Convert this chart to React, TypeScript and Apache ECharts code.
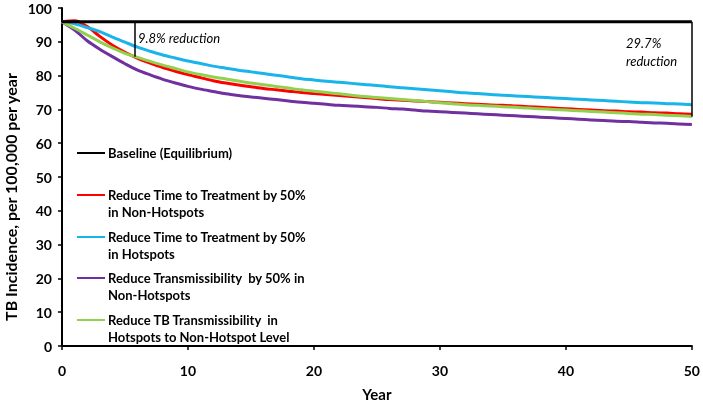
import React, { useEffect, useRef } from "react";
import * as echarts from "echarts";

const years = Array.from({ length: 51 }, (_, i) => i);
const baseline = 95.9;
const hotspotsTreatment = [95.9, 95.3, 94.2, 93.0, 91.4, 89.9, 88.4, 87.2, 86.1, 85.2, 84.3, 83.6, 82.8, 82.2, 81.6, 81.1, 80.6, 80.1, 79.6, 79.1, 78.7, 78.3, 78.0, 77.7, 77.4, 77.1, 76.7, 76.4, 76.1, 75.8, 75.5, 75.2, 74.9, 74.7, 74.4, 74.2, 74.0, 73.8, 73.6, 73.4, 73.2, 73.0, 72.8, 72.6, 72.4, 72.2, 72.0, 71.9, 71.7, 71.6, 71.4];
const nonHotspotsTreatment = [95.9, 96.2, 94.5, 91.6, 89.0, 86.9, 85.1, 83.7, 82.4, 81.3, 80.3, 79.4, 78.5, 77.8, 77.2, 76.7, 76.2, 75.8, 75.4, 75.0, 74.7, 74.4, 74.1, 73.8, 73.5, 73.2, 72.9, 72.7, 72.5, 72.3, 72.1, 71.9, 71.7, 71.5, 71.3, 71.2, 71.0, 70.8, 70.6, 70.4, 70.2, 70.0, 69.8, 69.6, 69.5, 69.3, 69.2, 69.0, 68.9, 68.7, 68.6];
const nonHotspotsTransmission = [95.9, 93.5, 90.3, 87.8, 85.6, 83.5, 81.6, 80.2, 78.9, 77.8, 76.8, 76.0, 75.3, 74.6, 74.1, 73.7, 73.3, 72.9, 72.5, 72.1, 71.8, 71.5, 71.2, 71.0, 70.8, 70.6, 70.3, 70.1, 69.8, 69.5, 69.3, 69.1, 68.9, 68.7, 68.5, 68.3, 68.1, 67.9, 67.7, 67.5, 67.3, 67.1, 66.9, 66.7, 66.5, 66.4, 66.2, 66.0, 65.9, 65.7, 65.5];
const hotspotsTransmission = [95.9, 94.0, 92.0, 90.0, 88.2, 86.6, 85.4, 84.2, 83.1, 82.1, 81.1, 80.3, 79.6, 79.0, 78.4, 77.8, 77.3, 76.8, 76.3, 75.8, 75.4, 75.0, 74.6, 74.2, 73.8, 73.5, 73.2, 72.9, 72.6, 72.3, 72.0, 71.7, 71.4, 71.2, 71.0, 70.8, 70.6, 70.4, 70.2, 70.0, 69.8, 69.6, 69.4, 69.2, 69.0, 68.8, 68.6, 68.5, 68.3, 68.1, 67.9];

const seriesNames = [
  "Baseline (Equilibrium)",
  "Reduce Time to Treatment by 50%\nin Non-Hotspots",
  "Reduce Time to Treatment by 50%\nin Hotspots",
  "Reduce Transmissibility  by 50% in\nNon-Hotspots",
  "Reduce TB Transmissibility  in\nHotspots to Non-Hotspot Level",
];
const colors = ["#000000", "#ff0000", "#18b4ea", "#7030a0", "#92d050"];
const annotations = [
  { year: 5.8, to: 85.6, text: "9.8% reduction" },
  { year: 50, to: 67.8, text: "29.7%\nreduction" },
];
const yTitle = "TB Incidence, per 100,000 per year";

const FONT = "Lato";

export default function App() {
  const ref = useRef<HTMLDivElement>(null);
  useEffect(() => {
    const chart = echarts.init(ref.current!, null, { renderer: "svg" });
    const pair = (arr: number[]) => years.map((y, i) => [y, arr[i]]);
    const dataSets = [
      [[0, baseline], [50, baseline]],
      pair(nonHotspotsTreatment),
      pair(hotspotsTreatment),
      pair(nonHotspotsTransmission),
      pair(hotspotsTransmission),
    ];
    const legendY = [153, 195, 237, 278, 320];
    const graphic: any[] = [];
    seriesNames.forEach((name, i) => {
      graphic.push({
        type: "line",
        shape: { x1: 77, y1: legendY[i], x2: 105, y2: legendY[i] },
        style: { stroke: colors[i], lineWidth: 2 },
      });
      graphic.push({
        type: "text",
        x: 108,
        y: legendY[i] - 8.5,
        style: {
          text: name,
          fill: "#000",
          font: `bold 13px ${FONT}`,
          lineHeight: 17,
        },
      });
    });
    graphic.push({
      type: "text",
      x: 138,
      y: 31,
      style: { text: annotations[0].text, fill: "#000", font: `italic 13px ${FONT}` },
    });
    graphic.push({
      type: "text",
      x: 626,
      y: 34,
      style: { text: annotations[1].text, fill: "#000", font: `italic 13px ${FONT}`, lineHeight: 18 },
    });
    graphic.push({
      type: "text",
      x: 10,
      y: 197,
      rotation: Math.PI / 2,
      style: {
        text: yTitle,
        fill: "#000",
        font: `bold 16px ${FONT}`,
        align: "center",
        verticalAlign: "middle",
      },
    });

    chart.setOption({
      animation: false,
      grid: { left: 62, right: 8, top: 8, bottom: 58 },
      xAxis: {
        type: "value",
        min: 0,
        max: 50,
        interval: 10,
        name: "Year",
        nameLocation: "middle",
        nameGap: 40,
        nameTextStyle: { fontFamily: FONT, fontWeight: "bold", fontSize: 15, color: "#000" },
        axisLine: { lineStyle: { color: "#000", width: 2 } },
        axisTick: { show: true, length: 4, lineStyle: { color: "#000", width: 1.5 } },
        axisLabel: { margin: 17, fontFamily: FONT, fontWeight: "bold", fontSize: 14, color: "#000" },
        splitLine: { show: false },
      },
      yAxis: {
        type: "value",
        min: 0,
        max: 100,
        interval: 10,
        axisLine: { show: true, lineStyle: { color: "#000", width: 2 } },
        axisTick: { show: true, length: 4, lineStyle: { color: "#000", width: 1.5 } },
        axisLabel: { margin: 10, fontFamily: FONT, fontWeight: "bold", fontSize: 14, color: "#000" },
        splitLine: { show: false },
      },
      series: dataSets.map((d, i) => ({
        type: "line",
        name: seriesNames[i],
        data: d,
        showSymbol: false,
        symbol: "none",
        smooth: i === 0 ? false : 0.3,
        lineStyle: { color: colors[i], width: 3 },
        z: i === 0 ? 5 : 3,
        markLine:
          i === 0
            ? {
                silent: true,
                symbol: "none",
                label: { show: false },
                lineStyle: { color: "#000", width: 1.5, type: "solid" },
                data: annotations.map((a) => [
                  { coord: [a.year, baseline] },
                  { coord: [a.year, a.to] },
                ]),
              }
            : undefined,
      })),
      graphic,
    });
    return () => chart.dispose();
  }, []);
  return (
    <div
      ref={ref}
      style={{ position: "fixed", left: 0, top: 0, width: 703, height: 406 }}
    />
  );
}
